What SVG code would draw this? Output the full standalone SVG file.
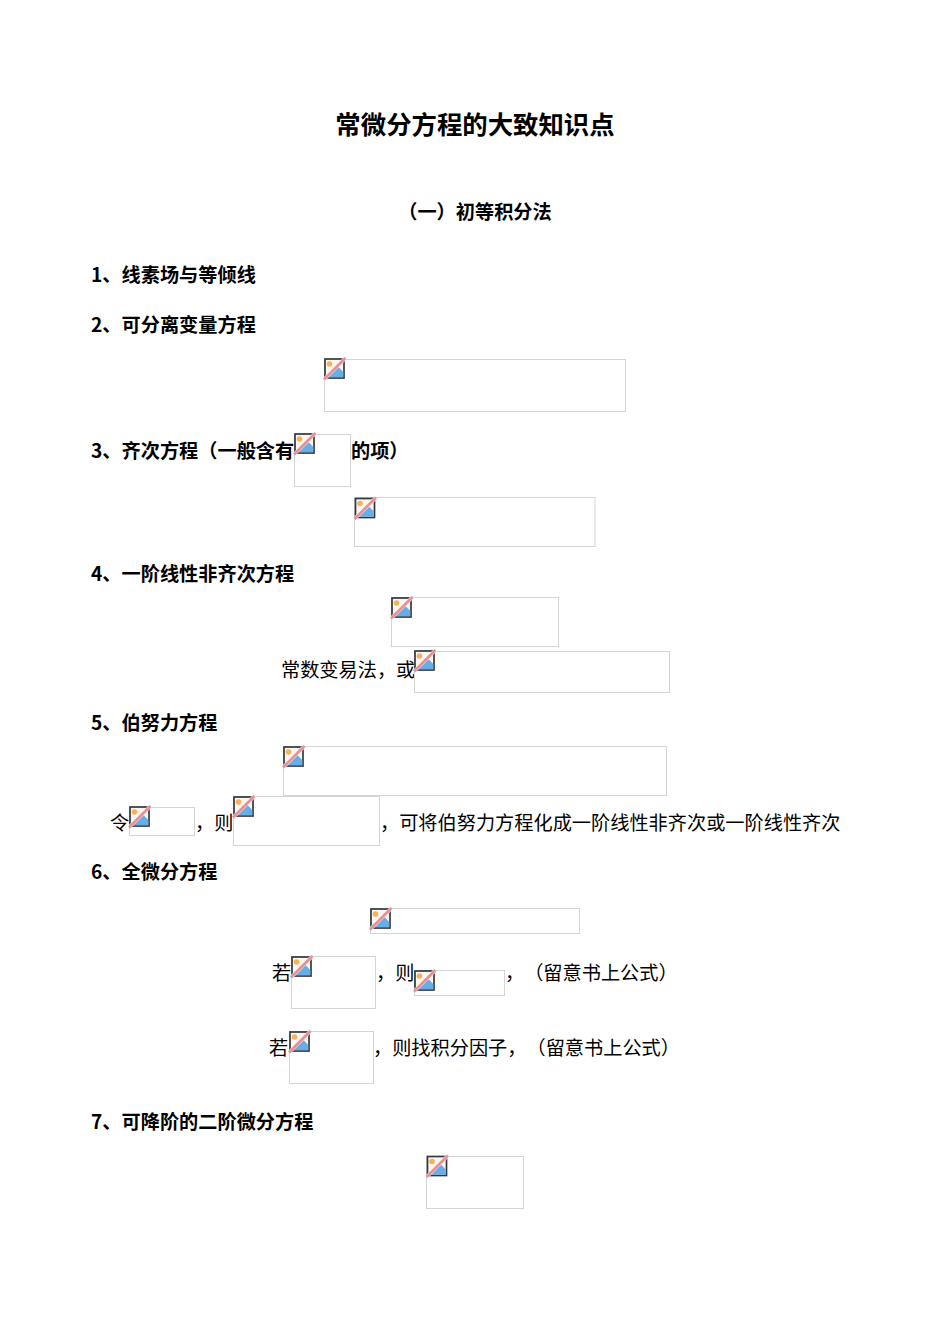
<svg xmlns="http://www.w3.org/2000/svg" xmlns:xlink="http://www.w3.org/1999/xlink" width="950" height="1344" viewBox="0 0 950 1344">
<style>
text{font-family:"Noto Sans CJK SC","Noto Sans",sans-serif;font-size:19.2px;fill:#000;text-spacing-trim:space-all}
.b{font-weight:700}
.m{text-anchor:middle}
.t{font-size:25.4px}
.box{fill:#fff;stroke:#d4d4d4;stroke-width:1}
</style>
<defs>
<symbol id="i" width="22" height="22" viewBox="0 0 22 22" overflow="visible">
<rect x="1" y="1" width="19" height="19" fill="#fdf6ee" stroke="#33393f" stroke-width="1.7"/>
<circle cx="5.5" cy="6" r="2.800" fill="#f4b25e"/>
<path d="M2 19.200 L14.500 9 L19.300 14 V19.200 Z" fill="#68aee6"/>
<path d="M0 21.500 L21.500 0" stroke="#fbe9e6" stroke-width="3.600"/>
<path d="M0 21.500 L21.500 0" stroke="#e58f96" stroke-width="2.500"/>
</symbol>
</defs>
<rect width="950" height="1344" fill="#fff"/>
<text class="b m t" x="475" y="134">常微分方程的大致知识点</text>
<text class="b m" x="475" y="219">（一）初等积分法</text>
<text class="b" x="91" y="282">1、线素场与等倾线</text>
<text class="b" x="91" y="332">2、可分离变量方程</text>
<rect class="box" x="324.500" y="359.500" width="301" height="52"/><use href="#i" x="324" y="358"/>
<text class="b" x="91" y="458">3、齐次方程（一般含有</text>
<rect class="box" x="294.500" y="434.500" width="56" height="52"/><use href="#i" x="294" y="433"/>
<text class="b" x="351" y="458">的项）</text>
<rect class="box" x="354.500" y="497.500" width="240.500" height="49"/><use href="#i" x="354.500" y="497.500"/>
<text class="b" x="91" y="581">4、一阶线性非齐次方程</text>
<rect class="box" x="391.500" y="597.500" width="167" height="49"/><use href="#i" x="391" y="597"/>
<text x="281" y="677">常数变易法，或</text>
<rect class="box" x="414.500" y="651.500" width="255" height="41"/><use href="#i" x="414" y="650"/>
<text class="b" x="91" y="730">5、伯努力方程</text>
<rect class="box" x="283.500" y="746.500" width="383" height="49"/><use href="#i" x="283" y="746"/>
<text x="110" y="829.500">令</text>
<rect class="box" x="129.500" y="807.500" width="65" height="28"/><use href="#i" x="129" y="806"/>
<text x="195" y="829.500">，则</text>
<rect class="box" x="233.500" y="796.500" width="146" height="49"/><use href="#i" x="233" y="796"/>
<text x="380" y="829.500">，可将伯努力方程化成一阶线性非齐次或一阶线性齐次</text>
<text class="b" x="91" y="879">6、全微分方程</text>
<rect class="box" x="370.500" y="908.500" width="209" height="25"/><use href="#i" x="370" y="908"/>
<text x="272" y="980">若</text>
<rect class="box" x="291.500" y="956.500" width="84" height="52"/><use href="#i" x="291" y="956"/>
<text x="376" y="980">，则</text>
<rect class="box" x="414.500" y="970.500" width="90" height="25"/><use href="#i" x="414" y="970"/>
<text x="505" y="980">，（留意书上公式）</text>
<text x="269" y="1055">若</text>
<rect class="box" x="289.500" y="1031.500" width="84" height="52"/><use href="#i" x="289" y="1031"/>
<text x="373" y="1055">，则找积分因子，（留意书上公式）</text>
<text class="b" x="91" y="1128.500">7、可降阶的二阶微分方程</text>
<rect class="box" x="426.500" y="1156.500" width="97" height="52"/><use href="#i" x="426.500" y="1155.500"/>
</svg>
